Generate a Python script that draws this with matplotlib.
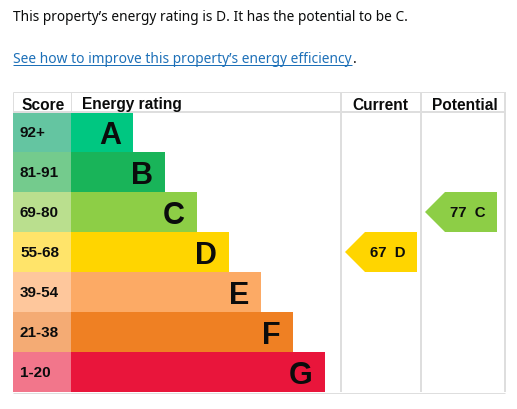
# EPC energy rating chart - current vs potential
import matplotlib
matplotlib.use('Agg')
import matplotlib.pyplot as plt
from matplotlib.patches import Polygon

bands = ['A', 'B', 'C', 'D', 'E', 'F', 'G']
score_ranges = ['92+', '81-91', '69-80', '55-68', '39-54', '21-38', '1-20']
band_min = [92, 81, 69, 55, 39, 21, 1]
band_colors = ['#00c781', '#19b459', '#8dce46', '#ffd500', '#fcaa65', '#ef8023', '#e9153b']
score_colors = ['#64c5a1', '#74cb8d', '#badf8e', '#ffe46a', '#fec79c', '#f4ab74', '#f2768b']
headers = ['Score', 'Energy rating', 'Current', 'Potential']
current_score = 67
potential_score = 77

intro = 'This property\u2019s energy rating is D. It has the potential to be C.'
link = 'See how to improve this property\u2019s energy efficiency'

TXT = '#0b0c0c'
GRID = '#dedede'
PX = 0.72  # 1px in points at dpi 100


def band_of(score):
    for i, m in enumerate(band_min):
        if score >= m:
            return i
    return len(bands) - 1


def fit_width(t, target):
    # shrink/grow a text so it spans target pixels
    r = fig.canvas.get_renderer()
    w = t.get_window_extent(r).width
    t.set_fontsize(t.get_fontsize() * target / w)
    return t.get_window_extent(r)


fig = plt.figure(figsize=(5.17, 4.10), dpi=100)
ax = fig.add_axes([0, 0, 1, 1])
ax.set_xlim(0, 517)
ax.set_ylim(410, 0)
ax.axis('off')

# text above the table
t1 = ax.text(13, 20.7, intro, fontsize=10, family='Noto Sans', color=TXT, va='baseline')
fit_width(t1, 395)
t2 = ax.text(13, 63.3, link, fontsize=10, family='Noto Sans', color='#1d70b8', va='baseline')
fit_width(t2, 339)
ax.hlines(66, 13, 352, color='#1d70b8', lw=PX)
ax.text(353, 63.3, '.', fontsize=t2.get_fontsize(), family='Noto Sans', color=TXT, va='baseline')

# table geometry
top, head_h, row_h = 93, 20, 40
first = top + head_h
n = len(bands)
centers = [first + row_h * i + row_h / 2 for i in range(n)]
widths = [62 + 32 * i for i in range(n)]

ax.barh(centers, 58, left=13, height=row_h, color=score_colors, linewidth=0)
ax.barh(centers, widths, left=71, height=row_h, color=band_colors, linewidth=0)

for i in range(n):
    ax.text(20, first + row_h * i + 24, score_ranges[i], fontsize=11, family='Liberation Sans',
            weight='bold', color=TXT, va='baseline')
    ax.text(71 + widths[i] - 12, first + row_h * i + 31.3, bands[i], fontsize=22,
            family='Liberation Sans', weight='bold', color=TXT, va='baseline', ha='right')

# grid lines
bottom = first + row_h * n
ax.hlines(top, 13, 505, color=GRID, lw=PX)
ax.hlines(first - 0.5, 13, 505, color=GRID, lw=2 * PX)
ax.hlines(bottom + 0.5, 13, 505, color=GRID, lw=PX)
ax.vlines([13, 71], top, first, color=GRID, lw=PX)
ax.vlines([341, 421, 505], top, bottom, color=GRID, lw=2 * PX)

for x, h in zip([21, 82, 352.5, 432], headers):
    ax.text(x, 109.5, h, fontsize=11.2, family='Liberation Sans', weight='bold',
            color=TXT, va='baseline')

# current / potential arrows
for score, tip, right in [(current_score, 345, 417), (potential_score, 425, 497)]:
    b = band_of(score)
    y0 = first + row_h * b
    pts = [(tip, y0 + row_h / 2), (tip + 20, y0), (right, y0), (right, y0 + row_h), (tip + 20, y0 + row_h)]
    ax.add_patch(Polygon(pts, closed=True, color=band_colors[b], linewidth=0))
    ax.text(tip + 24.5, y0 + 24.5, f'{score}  {bands[b]}', fontsize=10.8, family='Liberation Sans',
            weight='bold', color=TXT, va='baseline')

fig.savefig('out.png', dpi=100)
